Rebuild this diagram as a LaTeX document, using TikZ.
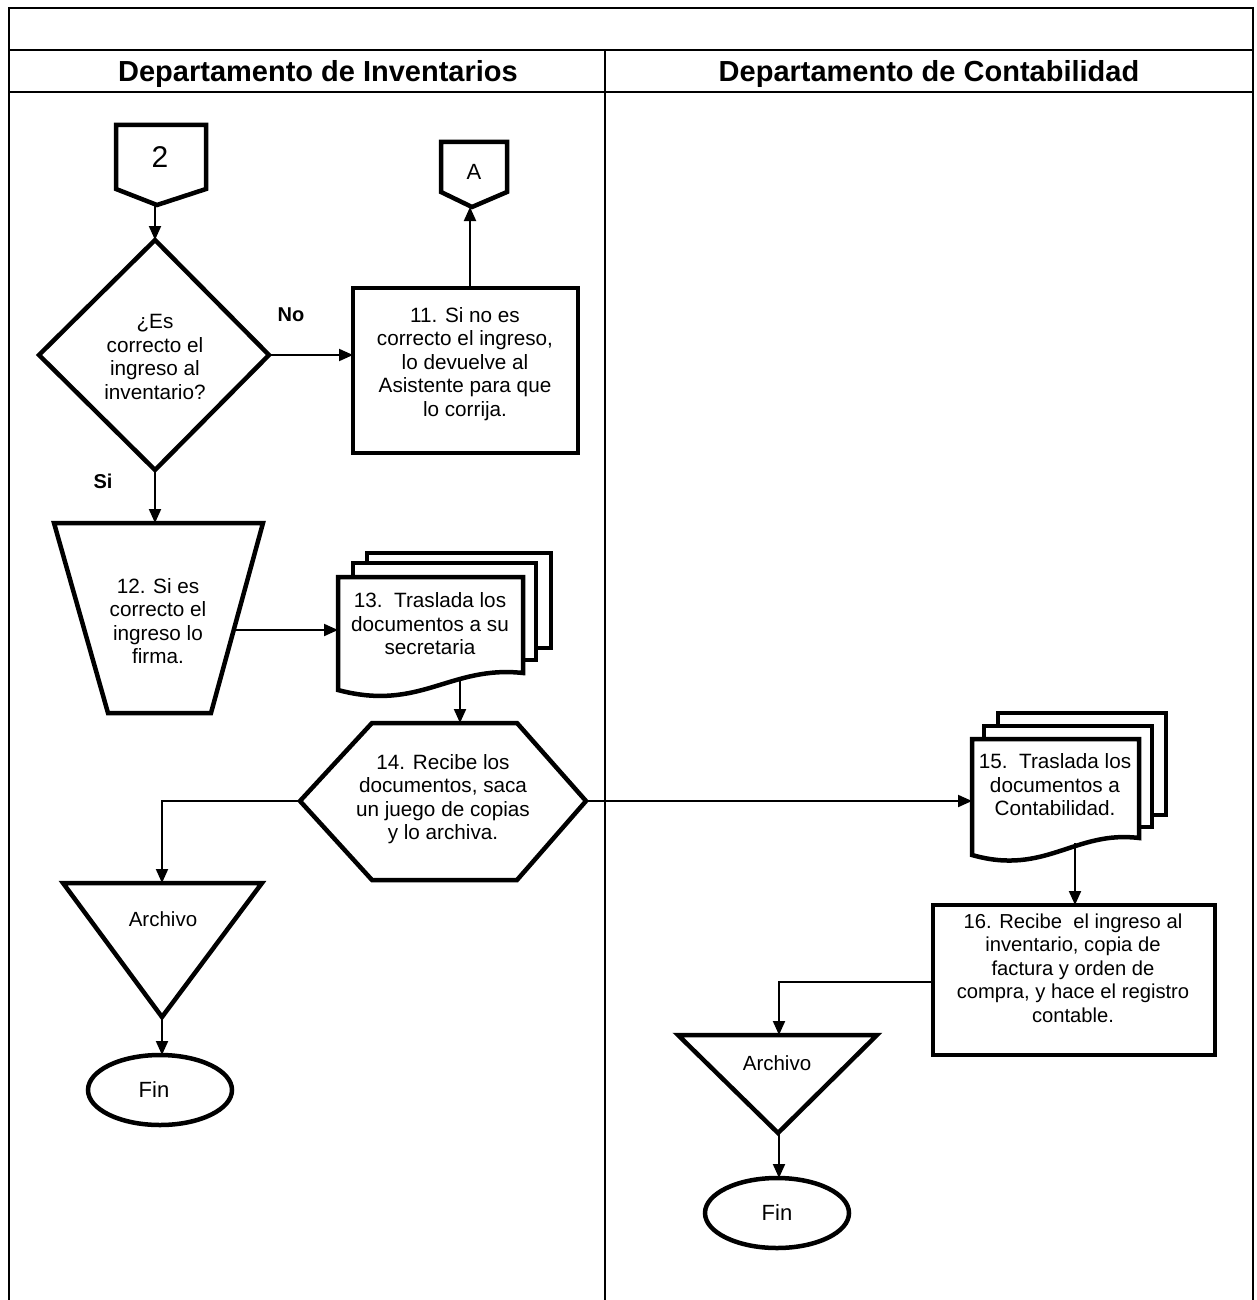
\documentclass[tikz,border=0pt]{standalone}
\usepackage{fontspec}
\setmainfont{Liberation Sans}
\usetikzlibrary{arrows.meta}
\begin{document}
\begin{tikzpicture}[x=1pt,y=-1pt,
  frame/.style={line width=2pt},
  outline/.style={line width=4.5pt, line join=miter, fill=white},
  link/.style={line width=2pt, -{Triangle[length=14pt,width=12pt]}},
  txt/.style={font=\fontsize{20.7}{23.5}\selectfont, align=center, inner sep=0pt},
  head/.style={font=\fontsize{29}{34}\selectfont\bfseries, inner sep=0pt},
  lbl/.style={font=\fontsize{20}{24}\selectfont\bfseries, inner sep=0pt}]
\useasboundingbox (0,0) rectangle (1257,1300);

% ---- swimlane frame ----
\draw[frame] (9,1300) -- (9,8) -- (1253,8) -- (1253,1300);
\draw[frame] (9,50) -- (1253,50);
\draw[frame] (9,92) -- (1253,92);
\draw[frame] (605,50) -- (605,1300);
\node[head] (h1) at (318,74) {Departamento de Inventarios};
\node[head] (h2) at (929,74) {Departamento de Contabilidad};

% ---- off-page connector 2 ----
\draw[outline] (116,125) -- (206,125) -- (206,189) -- (157,205) -- (116,189) -- cycle;
\node[inner sep=0pt, font=\fontsize{30}{34}\selectfont] (c2) at (160,157) {2};
\coordinate (c2b) at (155,205);

% ---- decision ----
\coordinate (dt) at (155,240);
\coordinate (dr) at (269,355);
\coordinate (db) at (155,470);
\coordinate (dl) at (39,355);
\draw[outline] (dt) -- (dr) -- (db) -- (dl) -- cycle;
\node[txt] (q) at (155,357) {¿Es\\correcto el\\ingreso al\\inventario?};
\node[lbl] (no) at (291,315) {No};
\node[lbl] (si) at (103,481) {Si};

% ---- step 11 ----
\draw[outline] (353,288) rectangle (578,453);
\node[txt] (s11) at (465,364) {11. Si no es\\correcto el ingreso,\\lo devuelve al\\Asistente para que\\lo corrija.};
\coordinate (s11l) at (353,355);
\coordinate (s11t) at (470,288);

% ---- off-page connector A ----
\draw[outline] (441,142) -- (507,142) -- (507,192) -- (472,207) -- (441,192) -- cycle;
\node[inner sep=0pt, font=\fontsize{22}{26}\selectfont] (ca) at (474,172) {A};
\coordinate (cab) at (470,207);

% ---- step 12 (manual operation) ----
\draw[outline] (54,523) -- (263,523) -- (211,713) -- (108,713) -- cycle;
\node[txt] (s12) at (158,621) {12. Si es\\correcto el\\ingreso lo\\firma.};
\coordinate (s12t) at (155,523);
\coordinate (s12r) at (234,630);

% ---- step 13 (multiple documents) ----
\draw[outline] (367,553) rectangle (551,648);
\draw[outline] (353,563) rectangle (536,660);
\draw[outline] (338,577) -- (523,577) -- (523,673)
  .. controls (450,665) and (420,712) .. (338,690) -- cycle;
\node[txt] (s13) at (430,624) {13.\ \ Traslada los\\documentos a su\\secretaria};
\coordinate (s13l) at (338,630);
\coordinate (s13b) at (460,679);

% ---- step 14 (hexagon) ----
\draw[outline] (372,723) -- (517,723) -- (586,801) -- (517,880) -- (372,880) -- (300,801) -- cycle;
\node[txt] (s14) at (443,799) {14. Recibe los\\documentos, saca\\un juego de copias\\y lo archiva.};
\coordinate (s14t) at (460,723);
\coordinate (s14l) at (300,801);
\coordinate (s14r) at (586,801);

% ---- archive and end, left lane ----
\draw[outline] (63,883) -- (262,883) -- (162,1017) -- cycle;
\node[inner sep=0pt, font=\fontsize{20.5}{24}\selectfont] (arc1) at (163,919) {Archivo};
\coordinate (arc1t) at (162,883);
\coordinate (arc1b) at (162,1017);
\draw[outline] (160,1090) ellipse [x radius=72, y radius=35];
\node[inner sep=0pt, font=\fontsize{22}{26}\selectfont] (fin1) at (154,1090) {Fin};
\coordinate (fin1t) at (162,1055);

% ---- step 15 (multiple documents) ----
\draw[outline] (998,713) rectangle (1166,815);
\draw[outline] (984,726) rectangle (1152,827);
\draw[outline] (972,739) -- (1139,739) -- (1139,838)
  .. controls (1075,830) and (1045,876) .. (972,855) -- cycle;
\node[txt] (s15) at (1055,785) {15.\ \ Traslada los\\documentos a\\Contabilidad.};
\coordinate (s15l) at (972,801);
\coordinate (s15b) at (1075,843);

% ---- step 16 ----
\draw[outline] (933,905) rectangle (1215,1055);
\node[txt, font=\fontsize{20.2}{23.5}\selectfont] (s16) at (1073,968) {16. Recibe\ \ el ingreso al\\inventario, copia de\\factura y orden de\\compra, y hace el registro\\contable.};
\coordinate (s16t) at (1075,905);
\coordinate (s16l) at (933,982);

% ---- archive and end, right lane ----
\draw[outline] (678,1035) -- (877,1035) -- (778,1133) -- cycle;
\node[inner sep=0pt, font=\fontsize{20.5}{24}\selectfont] (arc2) at (777,1063) {Archivo};
\coordinate (arc2t) at (779,1035);
\coordinate (arc2b) at (779,1133);
\draw[outline] (777,1213) ellipse [x radius=72, y radius=35];
\node[inner sep=0pt, font=\fontsize{22}{26}\selectfont] (fin2) at (777,1213) {Fin};
\coordinate (fin2t) at (779,1178);

% ---- connectors ----
\draw[link] (c2b) -- (dt);
\draw[link] (dr) -- (s11l);
\draw[link] (s11t) -- (cab);
\draw[link] (db) -- (s12t);
\draw[link] (s12r) -- (s13l);
\draw[link] (s13b) -- (s14t);
\draw[link] (s14l) -| (arc1t);
\draw[link] (arc1b) -- (fin1t);
\draw[link] (s14r) -- (s15l);
\draw[link] (s15b) -- (s16t);
\draw[link] (s16l) -| (arc2t);
\draw[link] (arc2b) -- (fin2t);
\end{tikzpicture}
\end{document}
